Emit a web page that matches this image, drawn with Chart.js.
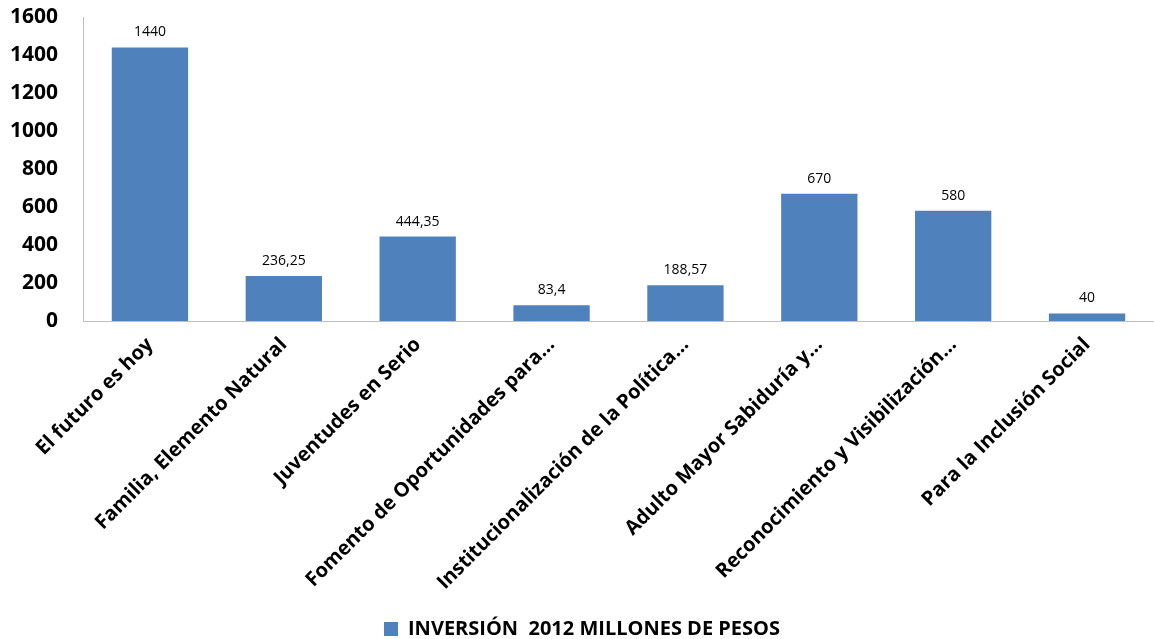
<!DOCTYPE html>
<html>
<head>
<meta charset="utf-8">
<script src="https://cdn.jsdelivr.net/npm/chart.js@4"></script>
<style>
html,body{margin:0;padding:0;background:#fff;}
#wrap{width:1154px;height:639px;position:relative;}
</style>
</head>
<body>
<div id="wrap"><canvas id="c"></canvas></div>
<script>
const categories = [
  "El futuro es hoy",
  "Familia, Elemento Natural",
  "Juventudes en Serio",
  "Fomento de Oportunidades para…",
  "Institucionalización de la Política…",
  "Adulto Mayor Sabiduría y…",
  "Reconocimiento y Visibilización…",
  "Para la Inclusión Social"
];
const inversion2012 = [1440, 236.25, 444.35, 83.4, 188.57, 670, 580, 40];
const seriesName = "INVERSIÓN  2012 MILLONES DE PESOS";
const yTicks = [0, 200, 400, 600, 800, 1000, 1200, 1400, 1600];

const FONT = "'Open Sans', 'Liberation Sans', sans-serif";

const valueLabels = {
  id: 'valueLabels',
  afterDatasetsDraw(chart) {
    const ctx = chart.ctx;
    const meta = chart.getDatasetMeta(0);
    ctx.save();
    ctx.font = "14px " + FONT;
    ctx.fillStyle = "#000";
    ctx.textAlign = "center";
    ctx.textBaseline = "bottom";
    meta.data.forEach((bar, i) => {
      const v = inversion2012[i];
      const txt = String(v).replace('.', ',');
      ctx.fillText(txt, bar.x, bar.y - 8);
    });
    ctx.restore();
  }
};

new Chart(document.getElementById('c'), {
  type: 'bar',
  data: {
    labels: categories,
    datasets: [{
      label: seriesName,
      data: inversion2012,
      backgroundColor: '#4F81BD',
      borderWidth: 0,
      categoryPercentage: 1.0,
      barPercentage: 0.57
    }]
  },
  options: {
    responsive: true,
    maintainAspectRatio: false,
    animation: false,
    layout: { padding: { top: 0, right: 0, left: 10, bottom: -10 } },
    plugins: {
      tooltip: { enabled: false },
      legend: {
        position: 'bottom',
        labels: {
          font: { family: FONT, size: 20, weight: 'bold' },
          color: '#000',
          boxWidth: 14,
          boxHeight: 14,
          padding: 4
        }
      }
    },
    scales: {
      x: {
        grid: { display: false },
        border: { display: true, color: '#BFBFBF', width: 1 },
        ticks: {
          color: '#000',
          font: { family: FONT, size: 20, weight: 'bold' },
          maxRotation: 45,
          minRotation: 45,
          autoSkip: false,
          padding: 4
        },
        afterFit(axis) { axis.paddingLeft = 0; axis.paddingRight = 0; axis.height = 294; }
      },
      y: {
        min: 0,
        max: 1600,
        afterBuildTicks(axis) { axis.ticks = yTicks.map(v => ({ value: v })); },
        grid: { display: false, drawTicks: false },
        border: { display: true, color: '#BFBFBF', width: 1 },
        ticks: {
          color: '#000',
          font: { family: FONT, size: 21, weight: 'bold' },
          padding: 25,
          callback: (v) => String(v)
        },
        afterFit(axis) { axis.paddingTop = 17; axis.paddingBottom = 0; axis.width = 73; }
      }
    }
  },
  plugins: [valueLabels]
});
</script>
</body>
</html>
